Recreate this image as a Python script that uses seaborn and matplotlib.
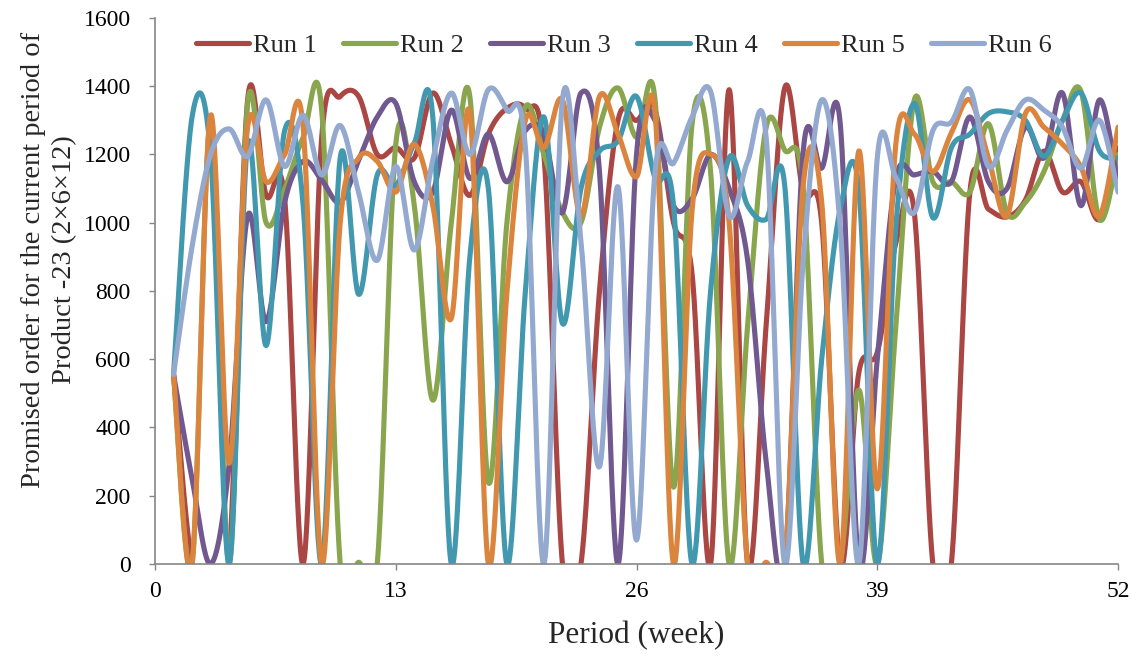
import numpy as np
import pandas as pd
import matplotlib
matplotlib.use("Agg")
import matplotlib.pyplot as plt
import seaborn as sns

weeks = list(range(1, 53))
series_names = ["Run 1", "Run 2", "Run 3", "Run 4", "Run 5", "Run 6"]
colors = ["#AA4643", "#89A54E", "#71588F", "#4198AF", "#DB843D", "#93A9CF"]

run1 = [555, 0, 0, 10, 1360, 1080, 1070, 0, 1250, 1370, 1370, 1200, 1220, 1190, 1380, 1230, 1080, 1260,
        1335, 1335, 1200, 0, 0, 800, 1300, 1300, 1330, 1000, 850, 0, 1390, 0, 700, 1395, 1090, 1000,
        0, 560, 620, 940, 1030, 0, 0, 1090, 1040, 1017, 1067, 1210, 1090, 1120, 1010, 1220]
run2 = [555, 0, 1300, 0, 1350, 1000, 1100, 1250, 1330, 0, 5, 0, 1230, 1050, 480, 1000, 1370, 240,
        1000, 1340, 1200, 1030, 1000, 1280, 1395, 1250, 1360, 225, 1290, 1150, 0, 700, 1280, 1213, 1100, 0,
        0, 510, 0, 695, 1360, 1120, 1120, 1090, 1290, 1030, 1060, 1150, 1300, 1385, 1010, 1200]
run3 = [555, 250, 0, 290, 1020, 710, 1060, 1180, 1125, 1060, 1184, 1310, 1350, 1120, 1090, 1330, 1130, 1260,
        1120, 1270, 1260, 1030, 1380, 1150, 0, 1200, 1300, 1050, 1070, 1200, 1100, 890, 300, 0, 1210, 1160,
        1290, 0, 600, 1130, 1140, 1150, 1120, 1310, 1120, 1100, 1280, 1190, 1380, 1050, 1360, 1110]
run4 = [555, 1310, 1200, 0, 1230, 640, 1270, 1050, 0, 1190, 790, 1140, 1110, 1233, 1310, 0, 900, 1100,
        0, 800, 1310, 705, 1100, 1210, 1240, 1370, 1130, 1050, 0, 800, 1190, 1050, 1010, 1110, 0, 600,
        1040, 1100, 0, 988, 1350, 1015, 1220, 1260, 1320, 1325, 1300, 1195, 1300, 1380, 1210, 1190]
run5 = [555, 0, 1315, 295, 1280, 1120, 1200, 1280, 0, 1000, 1190, 1180, 1090, 1230, 1050, 720, 1320, 0,
        794, 1300, 1220, 1360, 1020, 1370, 1260, 1135, 1320, 0, 1037, 1200, 1000, 0, 5, 0, 1110, 1060,
        0, 1210, 220, 1230, 1260, 1150, 1263, 1360, 1190, 1020, 1320, 1280, 1230, 1163, 1020, 1280]
run6 = [555, 930, 1200, 1275, 1195, 1360, 1165, 1315, 1140, 1285, 1087, 890, 1165, 920, 1184, 1380, 1200, 1390,
        1330, 1220, 0, 1360, 945, 285, 1105, 70, 1150, 1175, 1310, 1385, 1020, 1180, 1250, 0, 890, 1360,
        988, 0, 1190, 1133, 1030, 1270, 1295, 1390, 1165, 1270, 1360, 1330, 1280, 1160, 1300, 1090]

x_ticks = [0, 13, 26, 39, 52]
y_ticks = list(range(0, 1601, 200))


def smooth(xs, ys, n=30):
    P = np.column_stack([np.asarray(xs, float), np.asarray(ys, float)])
    P = np.vstack([P[0], P, P[-1]])
    t = np.linspace(0, 1, n, endpoint=False)[:, None]
    segs = []
    for i in range(1, len(P) - 2):
        p0, p1, p2, p3 = P[i - 1], P[i], P[i + 1], P[i + 2]
        b1 = p1 + (p2 - p0) / 6
        b2 = p2 - (p3 - p1) / 6
        segs.append((1 - t) ** 3 * p1 + 3 * (1 - t) ** 2 * t * b1 + 3 * (1 - t) * t ** 2 * b2 + t ** 3 * p2)
    segs.append(P[-2][None, :])
    return np.vstack(segs)


sns.set_theme(style="white")
plt.rcParams["font.family"] = ["Liberation Serif", "DejaVu Serif"]

fig = plt.figure(figsize=(11.44, 6.57), dpi=100)
ax = fig.add_axes([0.1355, 0.1416, 0.9773 - 0.1355, 0.9726 - 0.1416])

for name, vals, col in zip(series_names, [run1, run2, run3, run4, run5, run6], colors):
    s = smooth(weeks, vals)
    df = pd.DataFrame({"x": s[:, 0], "y": s[:, 1]})
    sns.lineplot(data=df, x="x", y="y", sort=False, estimator=None, color=col, lw=3.7,
                 label=name, ax=ax, solid_capstyle="round")

ax.set_xlim(0, 52)
ax.set_ylim(0, 1600)
ax.set_xticks(x_ticks)
ax.set_yticks(y_ticks)
ax.tick_params(axis="both", labelsize=17, labelcolor="black", color="#868686", length=4.5, width=1,
               direction="out", bottom=True, left=True)
ax.tick_params(axis="y", pad=13)
ax.tick_params(axis="x", pad=8)
for side in ["top", "right"]:
    ax.spines[side].set_visible(False)
for side in ["left", "bottom"]:
    ax.spines[side].set_color("#868686")
    ax.spines[side].set_linewidth(1.2)
ax.grid(False)
ax.set_xlabel("Period (week)", fontsize=22.5)
ax.set_ylabel("Promised order for the current period of\nProduct -23 (2×6×12)", fontsize=20.5,
              linespacing=1.33)
ax.xaxis.set_label_coords(0.5, -0.105)
ax.yaxis.set_label_coords(-0.081, 0.557)

leg = ax.legend(loc="center", bbox_to_anchor=(0.487, 0.9505), ncol=6, frameon=False, fontsize=19,
                handlelength=2.0, handletextpad=0.15, columnspacing=1.0, borderaxespad=0.0)
for h in leg.get_lines():
    h.set_linewidth(3.7)

fig.savefig("out.png", dpi=100)
